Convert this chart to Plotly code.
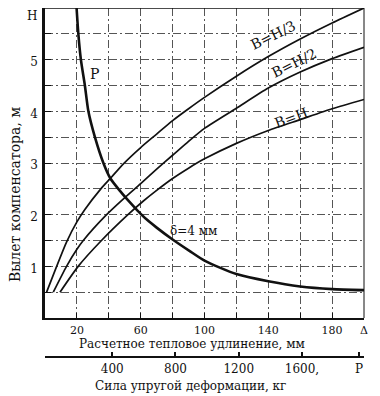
import plotly.graph_objects as go

# ---- data ----
h3_x = [1, 7.3, 13.5, 20, 25, 35, 41.5, 49, 60, 70, 80, 90, 100, 120, 140, 160, 180, 200]
h3_y = [0.5, 1.0, 1.47, 1.86, 2.1, 2.5, 2.72, 2.98, 3.3, 3.56, 3.82, 4.05, 4.27, 4.68, 5.06, 5.40, 5.71, 6.0]

h2_x = [5.2, 13.5, 20, 24, 38, 49, 60, 70, 80, 90, 100, 120, 140, 160, 180, 200]
h2_y = [0.5, 1.0, 1.33, 1.5, 1.98, 2.3, 2.6, 2.88, 3.15, 3.42, 3.67, 4.06, 4.45, 4.76, 5.02, 5.24]

h1_x = [9.4, 20.8, 35.4, 52, 61.5, 70, 80, 90, 100, 120, 140, 160, 180, 200]
h1_y = [0.5, 1.0, 1.5, 2.0, 2.26, 2.47, 2.7, 2.9, 3.08, 3.38, 3.63, 3.84, 4.05, 4.23]

p_x = [19.8, 20.9, 22.5, 25, 27.2, 31.3, 36.6, 41, 47, 52, 58, 64, 70, 80, 91, 100, 110, 120, 140, 160, 180, 200]
p_y = [6.0, 5.5, 5.0, 4.5, 4.0, 3.5, 3.0, 2.7, 2.46, 2.28, 2.08, 1.9, 1.75, 1.52, 1.29, 1.11, 0.97, 0.85, 0.71, 0.61, 0.56, 0.54]

x_tickvals = [20, 60, 100, 140, 180, 200]
x_ticktext = ["20", "60", "100", "140", "180", "Δ"]
y_tickvals = [1, 2, 3, 4, 5]
y_ticktext = ["1", "2", "3", "4", "5"]
y_top_value = 6
y_top_label = "H"
p_tickvals = [400, 800, 1200, 1600, 1960]
p_ticktext = ["400", "800", "1200", "1600,", "P"]

SERIF = "DejaVu Serif"
INK = "#111111"
GRID = "#555555"

fig = go.Figure()
for xs, ys, w in [(h3_x, h3_y, 1.7), (h2_x, h2_y, 1.7), (h1_x, h1_y, 1.7), (p_x, p_y, 2.6)]:
    fig.add_trace(go.Scatter(x=xs, y=ys, mode="lines",
                             line=dict(color=INK, width=w, shape="spline", smoothing=0.6),
                             showlegend=False, hoverinfo="skip"))

# invisible trace to activate the second (force) axis
fig.add_trace(go.Scatter(x=[0, 1960], y=[None, None], xaxis="x2", yaxis="y",
                         mode="lines", showlegend=False, hoverinfo="skip"))

grid_dash = "8px,3px,2px,3px"
fig.update_layout(
    width=372, height=388,
    margin=dict(l=37, r=16, t=0, b=39, autoexpand=False),
    paper_bgcolor="white", plot_bgcolor="white",
    font=dict(family=SERIF, color=INK, size=11),
    xaxis=dict(range=[0, 200], tickvals=x_tickvals, ticktext=x_ticktext,
               ticks="inside", ticklen=5, tickcolor=INK, tickwidth=1.2,
               showline=True, linecolor=INK, linewidth=2.2,
               showgrid=True, gridcolor=GRID, gridwidth=0.8, griddash=grid_dash,
               minor=dict(dtick=20, tick0=0, ticks="inside", ticklen=5, tickcolor=INK,
                          showgrid=True, gridcolor=GRID, gridwidth=0.8, griddash=grid_dash),
               zeroline=False, anchor="y", ticklabelstandoff=1, automargin=False,
               ticklabeloverflow="allow",
               tickfont=dict(family=SERIF, size=11, color=INK)),
    yaxis=dict(range=[0, 6], domain=[0.1117, 1], tickvals=y_tickvals, ticktext=y_ticktext,
               ticks="inside", ticklen=6, tickcolor=INK, tickwidth=1.2,
               showline=True, linecolor=INK, linewidth=2.6,
               showgrid=True, gridcolor=GRID, gridwidth=0.8, griddash=grid_dash,
               minor=dict(dtick=0.5, tick0=0, ticks="inside", ticklen=6, tickcolor=INK,
                          showgrid=True, gridcolor=GRID, gridwidth=0.8, griddash=grid_dash),
               zeroline=False, ticklabelstandoff=2, ticklabelshift=2, automargin=False,
               ticklabeloverflow="allow",
               tickfont=dict(family=SERIF, size=12, color=INK)),
    xaxis2=dict(range=[-25, 1992], overlaying="x", anchor="free", position=0, side="bottom",
                tickvals=p_tickvals, ticktext=p_ticktext,
                ticks="inside", ticklen=4, tickcolor=INK, tickwidth=1.5,
                showline=True, linecolor=INK, linewidth=2,
                showgrid=False, zeroline=False, ticklabelstandoff=1, automargin=False,
                ticklabeloverflow="allow",
                tickfont=dict(family=SERIF, size=12, color=INK)),
)

# top and right frame lines (thin)
fig.add_shape(type="line", xref="x domain", yref="y domain", x0=0, x1=1, y0=1, y1=1,
              line=dict(color=INK, width=1.5))
fig.add_shape(type="line", xref="x domain", yref="y domain", x0=1, x1=1, y0=0, y1=1,
              line=dict(color=INK, width=1))

# "H" label at the top of the vertical axis
fig.add_annotation(x=-0.022, y=y_top_value, xref="paper", yref="y",
                   xanchor="right", yanchor="top", text=y_top_label, showarrow=False,
                   borderpad=0, font=dict(family=SERIF, size=12, color=INK))

ann = [
    dict(x=143, y=5.48, text="B=H/3", textangle=-26, size=14),
    dict(x=156, y=4.94, text="B=H/2", textangle=-26, size=14),
    dict(x=154, y=3.88, text="B=H", textangle=-20, size=14),
    dict(x=31.3, y=4.73, text="P", textangle=0, size=14),
    dict(x=93.4, y=1.68, text="δ=4 мм", textangle=0, size=12),
]
for a in ann:
    fig.add_annotation(x=a["x"], y=a["y"], xref="x", yref="y", text=a["text"],
                       textangle=a["textangle"], showarrow=False,
                       font=dict(family=SERIF, size=a["size"], color=INK))

fig.add_annotation(x=0.461, y=0.036, xref="paper", yref="paper",
                   xanchor="center", yanchor="middle",
                   text="Расчетное тепловое удлинение, мм", showarrow=False,
                   font=dict(family=SERIF, size=12, color=INK))
fig.add_annotation(x=0.455, y=-0.083, xref="paper", yref="paper",
                   xanchor="center", yanchor="middle",
                   text="Сила упругой деформации, кг", showarrow=False,
                   font=dict(family=SERIF, size=12, color=INK))
fig.add_annotation(x=-0.094, y=0.464, xref="paper", yref="paper", textangle=-90,
                   xanchor="center", yanchor="middle",
                   text="Вылет компенсатора, м", showarrow=False,
                   font=dict(family=SERIF, size=14, color=INK))

fig.write_html("out.html")
